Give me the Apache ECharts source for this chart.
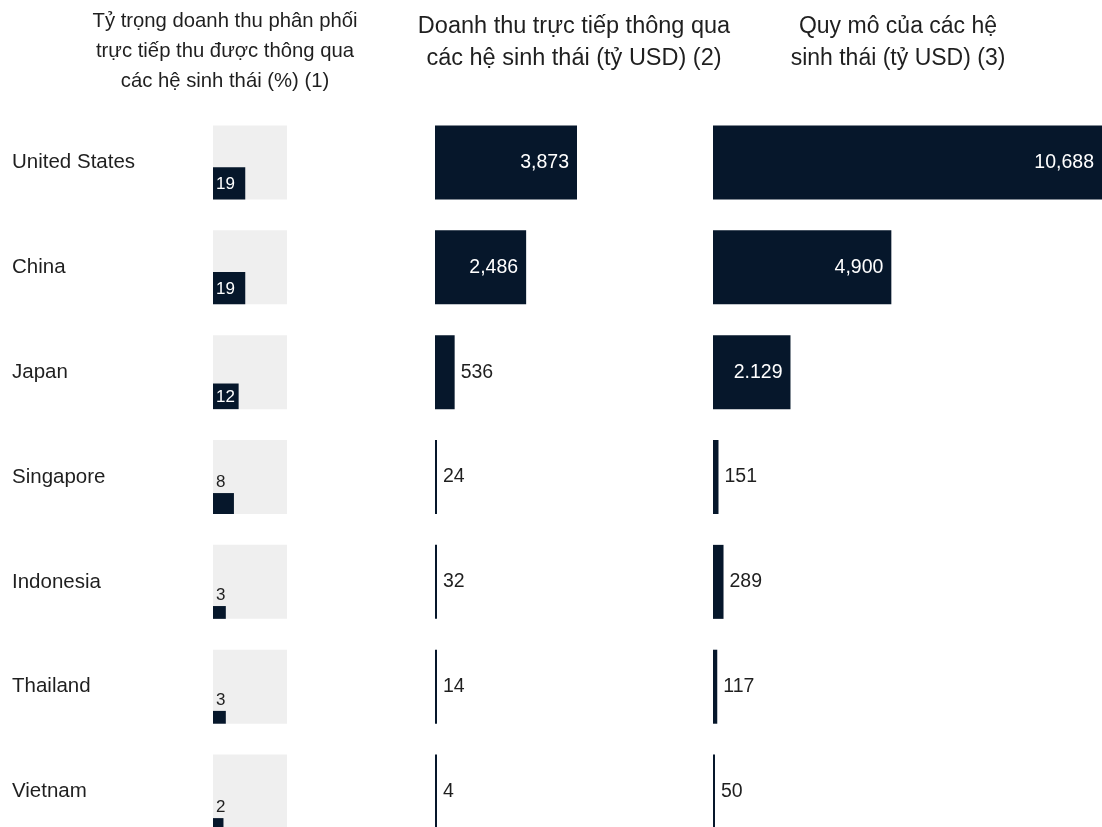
<!DOCTYPE html>
<html>
<head>
<meta charset="utf-8">
<script src="https://cdn.jsdelivr.net/npm/echarts@6/dist/echarts.min.js"></script>
<style>html,body{margin:0;padding:0;background:#fff;overflow:hidden}#c{width:1102px;height:850px}</style>
</head>
<body>
<div id="c"></div>
<script>
const countries = ['United States', 'China', 'Japan', 'Singapore', 'Indonesia', 'Thailand', 'Vietnam'];
const sharePct = [19, 19, 12, 8, 3, 3, 2];
const directRevenue = [3873, 2486, 536, 24, 32, 14, 4];
const directRevenueLabels = ['3,873', '2,486', '536', '24', '32', '14', '4'];
const ecosystemSize = [10688, 4900, 2129, 151, 289, 117, 50];
const ecosystemSizeLabels = ['10,688', '4,900', '2.129', '151', '289', '117', '50'];
const titles = [
  'Tỷ trọng doanh thu phân phối\ntrực tiếp thu được thông qua\ncác hệ sinh thái (%) (1)',
  'Doanh thu trực tiếp thông qua\ncác hệ sinh thái (tỷ USD) (2)',
  'Quy mô của các hệ\nsinh thái (tỷ USD) (3)'
];

const DARK = '#06172b';
const TEXT = '#1f1f1f';
const FONT = 'Liberation Sans, Arial, sans-serif';

const chart = echarts.init(document.getElementById('c'));

function barData(values, labels, insideMinPx, pxPerUnit) {
  return values.map((v, i) => {
    const inside = v * pxPerUnit > insideMinPx;
    return {
      value: v,
      label: {
        show: true,
        formatter: labels[i],
        position: inside ? 'insideRight' : 'right',
        distance: inside ? 8 : 6,
        color: inside ? '#ffffff' : TEXT,
        fontSize: 19.5,
        fontFamily: FONT
      }
    };
  });
}

const gridTop = 110, gridH = 734;

const option = {
  animation: false,
  backgroundColor: '#ffffff',
  title: [
    { text: titles[0], left: 220, top: 1, textAlign: 'center',
      textStyle: { fontSize: 20.3, fontWeight: 'normal', color: TEXT, fontFamily: FONT, lineHeight: 30 } },
    { text: titles[1], left: 569, top: 6, textAlign: 'center',
      textStyle: { fontSize: 23.5, fontWeight: 'normal', color: TEXT, fontFamily: FONT, lineHeight: 32 } },
    { text: titles[2], left: 893, top: 6, textAlign: 'center',
      textStyle: { fontSize: 23, fontWeight: 'normal', color: TEXT, fontFamily: FONT, lineHeight: 32 } }
  ],
  grid: [
    { left: 213, top: gridTop, width: 74, height: gridH },
    { left: 435, top: gridTop, width: 142, height: gridH },
    { left: 713, top: gridTop, width: 391, height: gridH }
  ],
  xAxis: [
    { gridIndex: 0, type: 'value', min: 0, max: 100, show: false },
    { gridIndex: 1, type: 'value', min: 0, max: 3873, show: false },
    { gridIndex: 2, type: 'value', min: 0, max: 10688, show: false }
  ],
  yAxis: [
    { gridIndex: 0, type: 'category', data: countries, inverse: true,
      axisLine: { show: false }, axisTick: { show: false }, splitLine: { show: false },
      axisLabel: { align: 'left', margin: 201, fontSize: 20.5, color: TEXT, fontFamily: FONT } },
    { gridIndex: 1, type: 'category', data: countries, inverse: true, show: false },
    { gridIndex: 2, type: 'category', data: countries, inverse: true, show: false }
  ],
  series: [
    {
      type: 'custom',
      xAxisIndex: 0, yAxisIndex: 0,
      data: sharePct.map((p, i) => [p, i]),
      encode: { x: 0, y: 1 },
      clip: false,
      renderItem: function (params, api) {
        const p = api.value(0);
        const c = api.coord([0, api.value(1)]);
        const S = api.size([100, 0])[0];
        const d = S * Math.sqrt(p / 100);
        const x0 = c[0], bottom = c[1] + S / 2;
        const inside = d >= 22;
        return {
          type: 'group',
          children: [
            { type: 'rect', shape: { x: x0, y: c[1] - S / 2, width: S, height: S }, style: { fill: '#efefef' } },
            { type: 'rect', shape: { x: x0, y: bottom - d, width: d, height: d }, style: { fill: DARK } },
            { type: 'text', x: x0 + 3, y: inside ? bottom - d / 2 + 1 : bottom - d - 2,
              style: { text: String(p), fill: inside ? '#ffffff' : TEXT, fontSize: 17, fontFamily: FONT,
                       textAlign: 'left', textVerticalAlign: inside ? 'middle' : 'bottom' } }
          ]
        };
      }
    },
    {
      type: 'bar', xAxisIndex: 1, yAxisIndex: 1,
      data: barData(directRevenue, directRevenueLabels, 60, 142 / 3873),
      barWidth: 74, barMinHeight: 2,
      itemStyle: { color: DARK }
    },
    {
      type: 'bar', xAxisIndex: 2, yAxisIndex: 2,
      data: barData(ecosystemSize, ecosystemSizeLabels, 60, 391 / 10688),
      barWidth: 74, barMinHeight: 2,
      itemStyle: { color: DARK }
    }
  ]
};
chart.setOption(option);
</script>
</body>
</html>
